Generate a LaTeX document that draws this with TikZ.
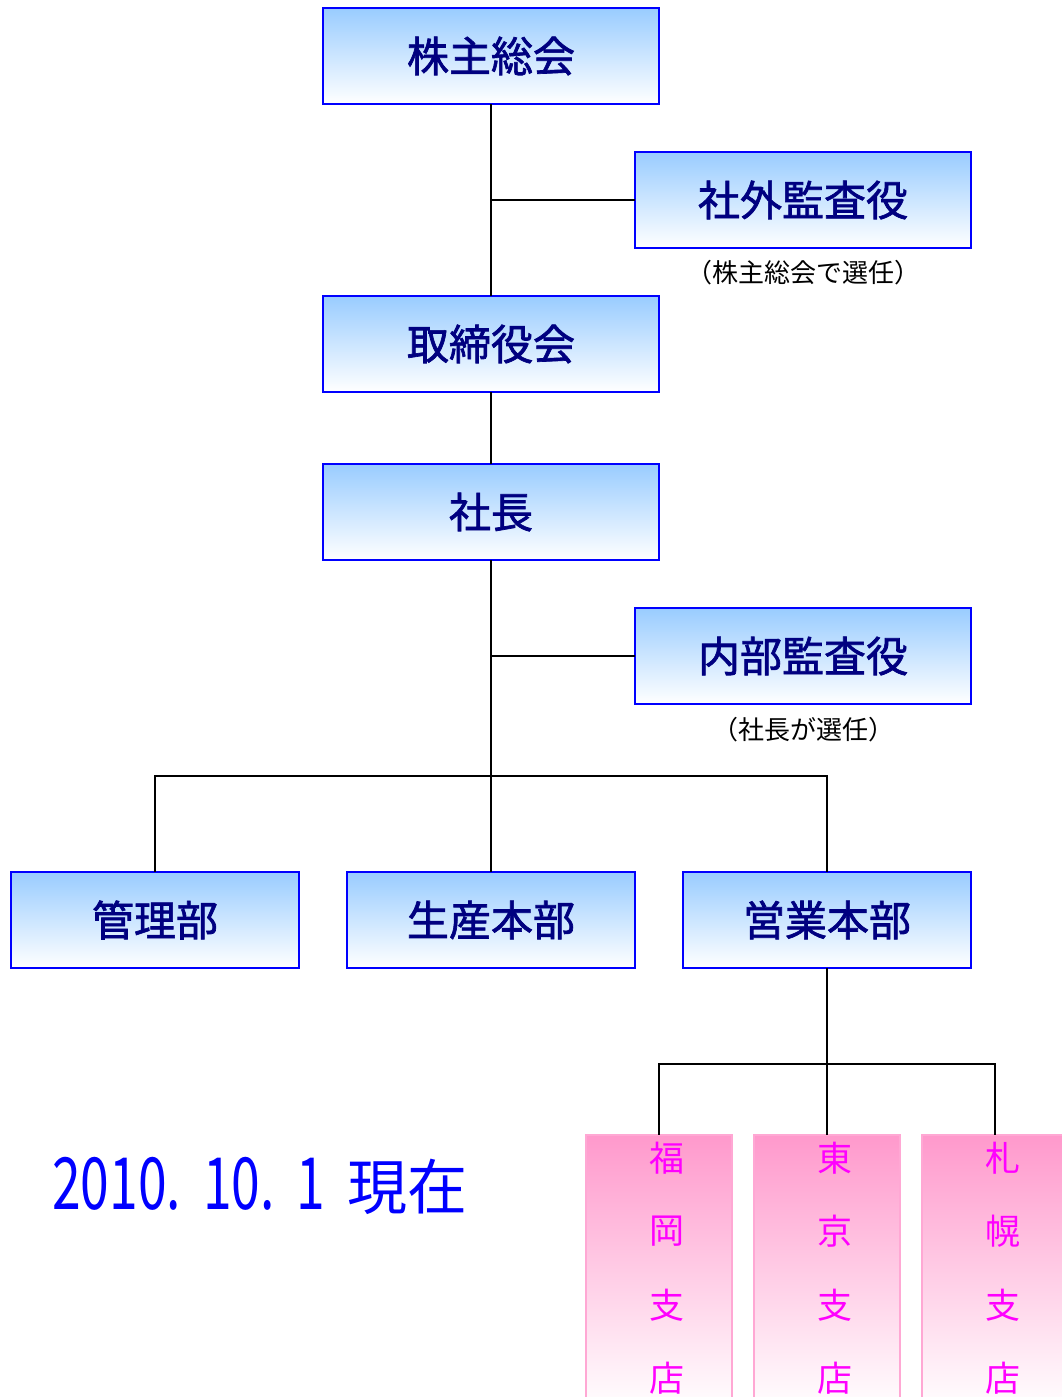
\documentclass[tikz,border=0pt]{standalone}
\usepackage{fontspec}
\setmainfont{Noto Sans CJK JP}
\newfontfamily\boxfont[FakeBold=1.6]{Noto Sans CJK JP}
\usetikzlibrary{calc}
\definecolor{boxblue}{HTML}{0000FF}
\definecolor{topblue}{HTML}{99CCFF}
\definecolor{navy}{HTML}{000080}
\definecolor{pinktop}{HTML}{FF99CC}
\definecolor{pinkedge}{HTML}{FFA8D4}
\definecolor{branchmag}{HTML}{FF00FF}
\definecolor{datblue}{HTML}{0000FF}
\begin{document}
\begin{tikzpicture}[x=1pt,y=1pt,
  orgbox/.style={draw=boxblue, line width=1.8pt, top color=topblue, bottom color=white,
    minimum width=336pt, minimum height=96pt, inner sep=0pt, outer sep=0pt,
    text=navy, font=\fontsize{42}{42}\boxfont},
  deptbox/.style={orgbox, minimum width=288pt},
  note/.style={font=\fontsize{26}{26}\selectfont, text=black, inner sep=0pt},
  branchbox/.style={draw=pinkedge, line width=1.2pt, top color=pinktop, bottom color=white,
    minimum width=146pt, minimum height=275pt, anchor=north, inner sep=0pt, outer sep=0pt},
  branchtext/.style={text=branchmag, font=\fontsize{35}{35}\selectfont, inner sep=0pt},
  conn/.style={draw=black, line width=1.6pt},
  lbl/.style={raise=-3pt}]
\useasboundingbox (0,0) rectangle (1062,1397);
\clip (0,0) rectangle (1062,1397);

% main boxes
\node[orgbox] (kabu) at (491,1341) {\raisebox{-3pt}{株主総会}};
\node[orgbox] (shagai) at (803,1197) {\raisebox{-3pt}{社外監査役}};
\node[note] (shagainote) at (803,1124) {（株主総会で選任）};
\node[orgbox] (torishimari) at (491,1053) {\raisebox{-3pt}{取締役会}};
\node[orgbox] (shacho) at (491,885) {\raisebox{-3pt}{社長}};
\node[orgbox] (naibu) at (803,741) {\raisebox{-3pt}{内部監査役}};
\node[note] (naibunote) at (803,667) {（社長が選任）};
\node[deptbox] (kanri) at (155,477) {\raisebox{-3pt}{管理部}};
\node[deptbox] (seisan) at (491,477) {\raisebox{-3pt}{生産本部}};
\node[deptbox] (eigyo) at (827,477) {\raisebox{-3pt}{営業本部}};

% branch boxes
\node[branchbox] (fukuoka) at (659,262) {};
\node[branchbox] (tokyo) at (827,262) {};
\node[branchbox] (sapporo) at (995,262) {};
\foreach \c [count=\i] in {福,岡,支,店}
  \node[branchtext] (fk\i) at (667,{239-73.5*(\i-1)}) {\c};
\foreach \c [count=\i] in {東,京,支,店}
  \node[branchtext] (tk\i) at (835,{239-73.5*(\i-1)}) {\c};
\foreach \c [count=\i] in {札,幌,支,店}
  \node[branchtext] (sp\i) at (1003,{239-73.5*(\i-1)}) {\c};

% date
\node[anchor=west, inner sep=0pt, text=datblue, font=\fontsize{60}{60}\selectfont] (date) at (52,211)
  {\scalebox{0.86}[1.2]{2010.}\hspace{22pt}\scalebox{0.86}[1.2]{10.}\hspace{22pt}\scalebox{0.86}[1.2]{1}\hspace{22pt}現在};

% junctions
\coordinate (j1) at (491,1197);
\coordinate (j2) at (491,741);
\coordinate (j3) at (491,621);
\coordinate (j4) at (827,333);

% connectors
\draw[conn] (kabu.south) -- (torishimari.north);
\draw[conn] (j1) -- (shagai.west);
\draw[conn] (torishimari.south) -- (shacho.north);
\draw[conn] (shacho.south) -- (seisan.north);
\draw[conn] (j2) -- (naibu.west);
\draw[conn] (kanri.north) |- (j3) -| (eigyo.north);
\draw[conn] (eigyo.south) -- (tokyo.north);
\draw[conn] (fukuoka.north) |- (j4) -| (sapporo.north);
\end{tikzpicture}
\end{document}
